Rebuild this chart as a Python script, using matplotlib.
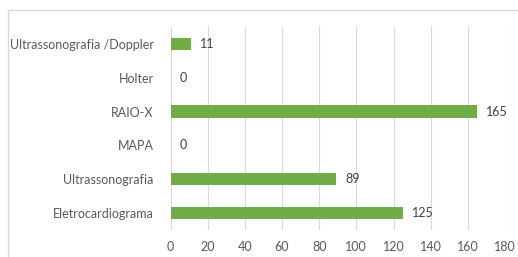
import matplotlib.pyplot as plt
from matplotlib.patches import Rectangle

categories = ["Eletrocardiograma", "Ultrassonografia", "MAPA", "RAIO-X", "Holter", "Ultrassonografia /Doppler"]
values = [125, 89, 0, 165, 0, 11]
xticks = [0, 20, 40, 60, 80, 100, 120, 140, 160, 180]

green = "#70AD47"
text_col = "#595959"
grid_col = "#D9D9D9"

plt.rcParams['font.family'] = ['Lato', 'DejaVu Sans']

fig = plt.figure(figsize=(5.18, 2.57), dpi=100)
ax = fig.add_axes([170.5/518, 1-230/257, (505-170.5)/518, 203/257])

# outer chart frame (partially cropped in the reference)
fig.patches.append(Rectangle((8/518, -0.1), 1.2, 1 - 10/257 + 0.1, transform=fig.transFigure,
                             fill=False, edgecolor=grid_col, linewidth=1))

ypos = list(range(len(categories)))
ax.barh(ypos, values, height=0.36, color=green, zorder=3)

for y, v in zip(ypos, values):
    ax.text(v + 5, y, str(v), va="center", ha="left", fontsize=9, color="#404040")

ax.set_xlim(0, 180)
ax.set_ylim(-0.5, 5.5)
ax.set_xticks(xticks)
ax.set_yticks(ypos)
ax.set_yticklabels(categories)
ax.tick_params(axis="both", length=0, labelsize=9, colors=text_col)
ax.tick_params(axis="y", pad=12)
ax.tick_params(axis="x", pad=8)
ax.xaxis.grid(True, color=grid_col, linewidth=0.8, zorder=0)
for s in ax.spines.values():
    s.set_visible(False)

fig.savefig("out.png", dpi=100)
